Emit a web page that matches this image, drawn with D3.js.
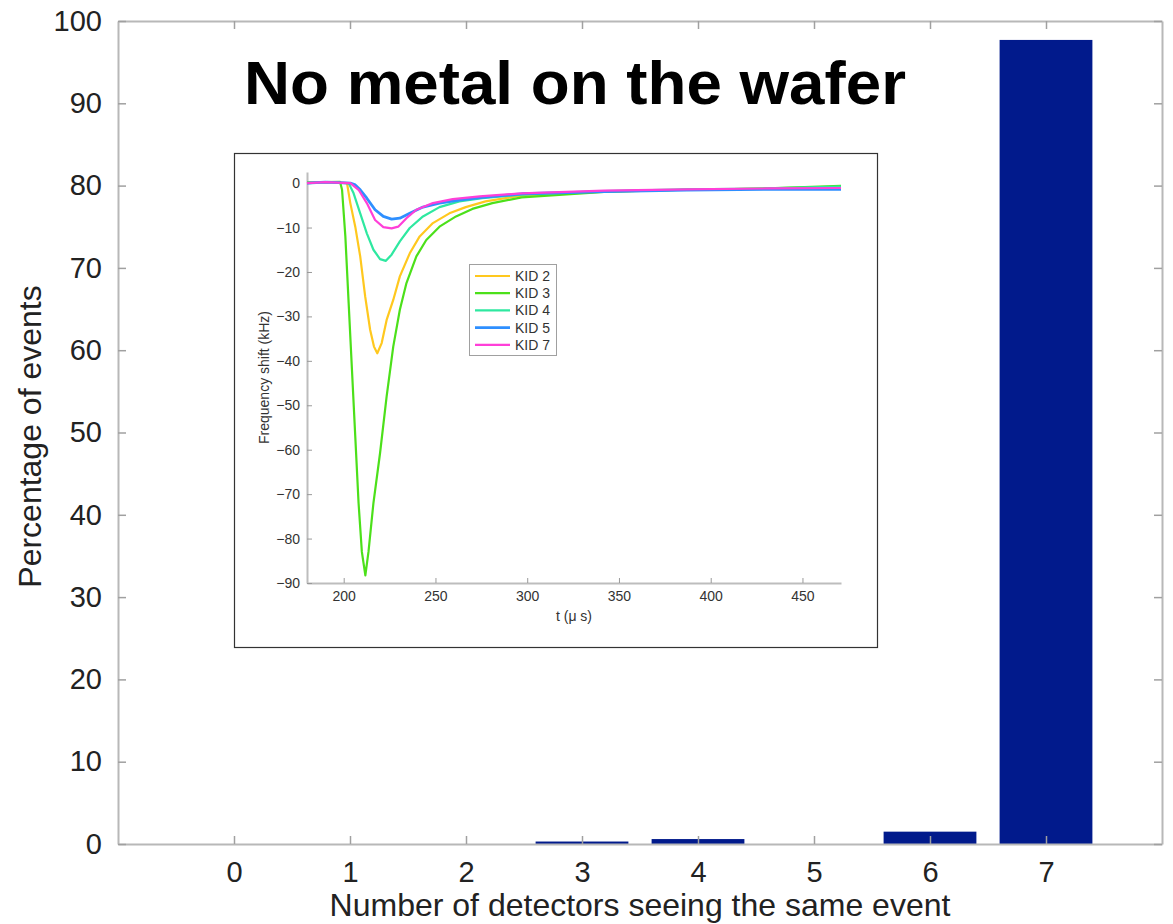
<!DOCTYPE html>
<html>
<head>
<meta charset="UTF-8"/>
<title>No metal on the wafer</title>
<script src="https://d3js.org/d3.v7.min.js"></script>
<style>
body { margin: 0; background: #fff; font-family: 'Liberation Sans', Arial, sans-serif; }
svg { display: block; }
.main .domain { stroke: #b8b8b8; stroke-width: 2; }
.main .tick line { stroke: #a0a0a0; stroke-width: 1.5; }
.main .tick text { font-size: 29px; fill: #222; }
.inset .domain { stroke: #bdbdbd; stroke-width: 2; }
.inset .tick line { stroke: #9a9a9a; }
.inset .tick text { font-size: 14px; fill: #333; }
</style>
</head>
<body>
<svg width="1173" height="924"></svg>
<script>
// main bar chart
const detectors = [0, 1, 2, 3, 4, 5, 6, 7];
const percentEvents = [0, 0, 0, 0.3, 0.6, 0, 1.5, 97.7];
const yTicks = [0, 10, 20, 30, 40, 50, 60, 70, 80, 90, 100];

// inset: frequency shift (kHz) vs t (us), [t, shift]
const kid2 = [[180,0.1],[190,0.2],[201.8,0],[203.6,-4.5],[206.3,-9.8],[209,-16.5],[211.7,-25.5],[214.4,-33],[216.5,-36.8],[218.3,-38.3],[220.7,-36],[223.4,-30.8],[227,-26.3],[230.6,-21],[236,-15.8],[241.4,-12],[248.6,-9],[257.6,-6.8],[266.5,-5.4],[277.3,-4.1],[297,-2.8],[342,-1.9],[387,-1.5],[431,-1.2],[471,-0.9]];
const kid3 = [[180,0.1],[190,0.2],[198,0.3],[199.1,-1.5],[200.9,-12],[202.7,-27],[204.5,-42],[206.3,-57],[208.1,-72],[209.9,-83],[211.8,-88.3],[213.5,-83],[216.2,-72],[219.8,-60.8],[223.4,-48],[227,-36.8],[230.6,-28.5],[234.2,-22.5],[239.6,-16.5],[245,-12.8],[252.2,-9.8],[261.2,-7.5],[270.1,-5.8],[281,-4.5],[297,-3.2],[342,-2],[387,-1.5],[431,-1.2],[471,-0.6]];
const kid4 = [[180,0],[190,0.2],[202.7,0],[205.4,-2.3],[209,-6.8],[212.6,-11.3],[216.2,-15],[219.8,-17.1],[223,-17.5],[226.1,-16.1],[230.6,-13.1],[236,-10.1],[243.2,-7.5],[252.2,-5.4],[263,-4.1],[275.5,-3.4],[297,-2.6],[342,-1.8],[387,-1.4],[431,-1.2],[471,-0.8]];
const kid5 = [[180,0],[190,0.2],[203.6,0],[206.3,-0.4],[209,-1.5],[212.6,-3.4],[217.1,-6],[221.6,-7.5],[226.1,-8.1],[230.6,-7.9],[236,-6.8],[243.2,-5.4],[252.2,-4.5],[263,-3.8],[275.5,-3.2],[297,-2.4],[342,-1.9],[387,-1.6],[431,-1.4],[471,-1.4]];
const kid7 = [[180,0],[190,0.2],[203.6,0],[208.1,-1.5],[212.6,-4.5],[217.1,-8.3],[221.6,-9.9],[226.1,-10.2],[229.7,-9.8],[234.2,-7.9],[239.6,-6],[248.6,-4.5],[259.4,-3.6],[274.1,-3],[297,-2.3],[342,-1.7],[387,-1.4],[431,-1.2],[471,-1.1]];
const kidNames = ['KID 2', 'KID 3', 'KID 4', 'KID 5', 'KID 7'];
const kidColors = ['#ffc81e', '#4ce01a', '#2ee8a0', '#2e8fff', '#ff3fd8'];
const insetXTicks = [200, 250, 300, 350, 400, 450];
const insetYTicks = [0, -10, -20, -30, -40, -50, -60, -70, -80, -90];

const svg = d3.select('svg');

const x = d3.scaleLinear().domain([-1, 8]).range([118, 1162]);
const y = d3.scaleLinear().domain([0, 100]).range([844, 21]);

// bars
svg.append('g')
  .selectAll('rect')
  .data(detectors)
  .enter()
  .append('rect')
  .attr('x', (d) => x(d - 0.4))
  .attr('width', x(0.8) - x(0))
  .attr('y', (d, i) => y(percentEvents[i]))
  .attr('height', (d, i) => y(0) - y(percentEvents[i]))
  .attr('fill', '#011a8c');

// axes, matlab style box with inward ticks
const main = svg.append('g').attr('class', 'main');

main.append('g')
  .attr('transform', `translate(0, ${y(0)})`)
  .call(d3.axisBottom(x).tickValues(detectors).tickSizeInner(-8).tickSizeOuter(0).tickPadding(17));

main.append('g')
  .attr('transform', `translate(0, ${y(100)})`)
  .call(d3.axisTop(x).tickValues(detectors).tickSizeInner(-8).tickSizeOuter(0).tickFormat(''));

main.append('g')
  .attr('transform', `translate(${x(-1)}, 0)`)
  .call(d3.axisLeft(y).tickValues(yTicks).tickSizeInner(-8).tickSizeOuter(0).tickPadding(16));

main.append('g')
  .attr('transform', `translate(${x(8)}, 0)`)
  .call(d3.axisRight(y).tickValues(yTicks).tickSizeInner(-8).tickSizeOuter(0).tickFormat(''));

svg.append('text')
  .attr('x', (x(-1) + x(8)) / 2)
  .attr('y', 916)
  .attr('text-anchor', 'middle')
  .style('font-size', '32px')
  .style('fill', '#222')
  .text('Number of detectors seeing the same event');

svg.append('text')
  .attr('transform', `translate(41, ${(y(0) + y(100)) / 2 + 4}) rotate(-90)`)
  .attr('text-anchor', 'middle')
  .style('font-size', '32px')
  .style('fill', '#222')
  .text('Percentage of events');

svg.append('text')
  .attr('x', 244)
  .attr('y', 104)
  .attr('textLength', 662)
  .attr('lengthAdjust', 'spacingAndGlyphs')
  .style('font-size', '62px')
  .style('font-weight', 'bold')
  .style('fill', '#000')
  .text('No metal on the wafer');

// inset
const inset = svg.append('g').attr('class', 'inset');

inset.append('rect')
  .attr('x', 234.5).attr('y', 153.5)
  .attr('width', 643).attr('height', 494)
  .attr('fill', '#fff')
  .attr('stroke', '#333')
  .attr('stroke-width', 1.2);

const xi = d3.scaleLinear().domain([180, 471]).range([307, 841]);
const yi = d3.scaleLinear().domain([-90, 2.5]).range([583, 172]);

inset.append('g')
  .attr('transform', `translate(0, ${yi(-90)})`)
  .call(d3.axisBottom(xi).tickValues(insetXTicks).tickSizeInner(-5).tickSizeOuter(0).tickPadding(8));

inset.append('g')
  .attr('transform', `translate(${xi(180)}, 0)`)
  .call(d3.axisLeft(yi).tickValues(insetYTicks).tickSizeInner(-5).tickSizeOuter(0).tickPadding(7));

const line = d3.line()
  .x((d) => xi(d[0]))
  .y((d) => yi(d[1]));

const kids = [kid2, kid3, kid4, kid5, kid7];
kids.forEach((k, i) => {
  inset.append('path')
    .datum(k)
    .attr('d', line)
    .attr('fill', 'none')
    .attr('stroke', kidColors[i])
    .attr('stroke-width', i === 3 ? 2.8 : 2.2)
    .attr('stroke-linejoin', 'round');
});

inset.append('text')
  .attr('x', (xi(180) + xi(471)) / 2)
  .attr('y', 621)
  .attr('text-anchor', 'middle')
  .style('font-size', '14px')
  .style('fill', '#333')
  .text('t (\u03bc s)');

inset.append('text')
  .attr('transform', `translate(269, ${(yi(-90) + yi(2.5)) / 2}) rotate(-90)`)
  .attr('text-anchor', 'middle')
  .style('font-size', '14px')
  .style('fill', '#333')
  .text('Frequency shift (kHz)');

// legend
const legend = inset.append('g');
legend.append('rect')
  .attr('x', 469.5).attr('y', 264.5)
  .attr('width', 87).attr('height', 91)
  .attr('fill', '#fff')
  .attr('stroke', '#a0a0a0');

kidNames.forEach((name, i) => {
  const ly = 276 + i * 17.2;
  legend.append('line')
    .attr('x1', 475).attr('x2', 510)
    .attr('y1', ly).attr('y2', ly)
    .attr('stroke', kidColors[i])
    .attr('stroke-width', i === 3 ? 2.8 : 2.2);
  legend.append('text')
    .attr('x', 515)
    .attr('y', ly + 5)
    .style('font-size', '14px')
    .style('fill', '#333')
    .text(name);
});
</script>
</body>
</html>
